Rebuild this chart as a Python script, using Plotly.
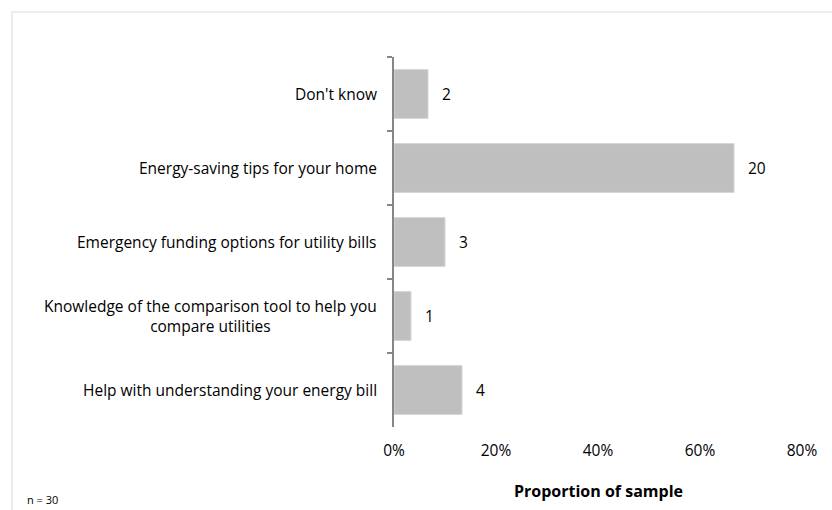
import plotly.graph_objects as go

# Survey responses (top to bottom)
categories = [
    "Don't know",
    "Energy-saving tips for your home",
    "Emergency funding options for utility bills",
    "Knowledge of the comparison tool to help you<br>compare utilities",
    "Help with understanding your energy bill",
]
counts = [2, 20, 3, 1, 4]
n_total = 30
x_ticks = [0, 0.2, 0.4, 0.6, 0.8]
x_tick_labels = ["0%", "20%", "40%", "60%", "80%"]

proportions = [c / n_total for c in counts]

W, H = 832, 510
ML, MR, MT, MB = 394, 30, 57, 83
PW, PH = W - ML - MR, H - MT - MB

FONT = "'Open Sans', Lato, sans-serif"
TEXT = "#000000"
LABEL_SIZE = 15.5

fig = go.Figure(
    go.Bar(
        x=proportions,
        y=categories,
        orientation="h",
        marker=dict(color="#bfbfbf", line=dict(color="#d6d6d6", width=1)),
        hoverinfo="skip",
    )
)

annotations = []
# count labels to the right of each bar
for cat, p, c in zip(categories, proportions, counts):
    annotations.append(dict(
        x=p, y=cat, xref="x", yref="y", text=str(c), showarrow=False,
        xanchor="left", xshift=12, font=dict(family=FONT, size=LABEL_SIZE, color=TEXT),
    ))
# category labels, right-aligned against the axis, centred lines
for cat in categories:
    annotations.append(dict(
        x=0, y=cat, xref="paper", yref="y", text=cat, showarrow=False,
        xanchor="right", xshift=-15, align="center",
        font=dict(family=FONT, size=LABEL_SIZE, color=TEXT),
    ))
# axis title
annotations.append(dict(
    x=0.5, y=(H - MB - 491) / PH, xref="paper", yref="paper",
    text="<b>Proportion of sample</b>", showarrow=False,
    xanchor="center", yanchor="middle",
    font=dict(family=FONT, size=16, color=TEXT),
))
# sample size note
annotations.append(dict(
    x=(25 - ML) / PW, y=(H - MB - 499) / PH, xref="paper", yref="paper",
    text="n = 30", showarrow=False, xanchor="left", yanchor="middle",
    font=dict(family=FONT, size=11, color=TEXT),
))

fig.update_layout(
    width=W, height=H,
    margin=dict(l=ML, r=MR, t=MT, b=MB, pad=0),
    plot_bgcolor="white", paper_bgcolor="white",
    bargap=0.34,
    showlegend=False,
    annotations=annotations,
    shapes=[dict(
        type="rect", xref="paper", yref="paper",
        x0=(12 - ML) / PW, x1=(W + 10 - ML) / PW,
        y0=(H - MB - (H + 10)) / PH, y1=(H - MB - 12) / PH,
        line=dict(color="#e8e8e8", width=1.5), fillcolor="rgba(0,0,0,0)", layer="below",
    )],
    xaxis=dict(
        range=[0, 0.8], tickvals=x_ticks, ticktext=x_tick_labels,
        showgrid=False, zeroline=False, showline=False, ticks="",
        ticklabelstandoff=12,
        tickfont=dict(family=FONT, size=LABEL_SIZE, color=TEXT),
        fixedrange=True,
    ),
    yaxis=dict(
        categoryorder="array", categoryarray=categories, autorange="reversed",
        showticklabels=False, showgrid=False, zeroline=False,
        showline=True, linecolor="#868686", linewidth=2,
        ticks="outside", tickson="boundaries", ticklen=5, tickwidth=2, tickcolor="#868686",
        fixedrange=True,
    ),
)

fig.write_html("out.html")
